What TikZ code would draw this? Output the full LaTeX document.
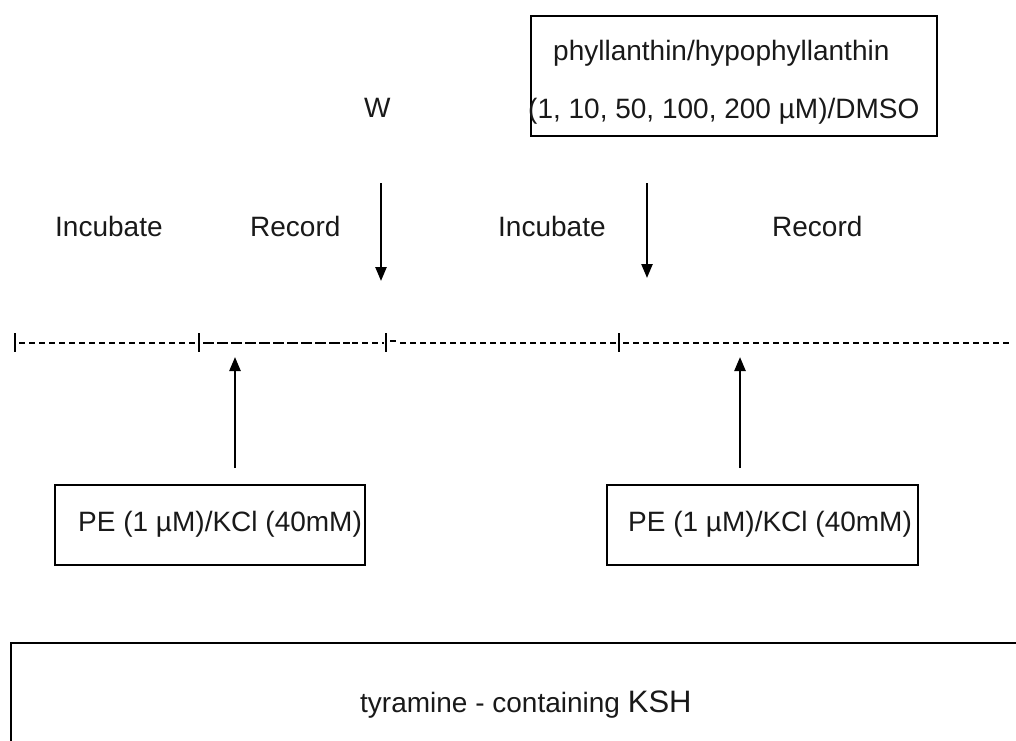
\documentclass[tikz,border=0pt]{standalone}
\usepackage{fontspec}
\setmainfont{Liberation Sans}
\usetikzlibrary{arrows.meta}
\begin{document}
\begin{tikzpicture}[x=1pt,y=-1pt,
  lbl/.style={anchor=base west, inner sep=0pt, font=\fontsize{28}{34}\selectfont, text=black!90},
  box/.style={draw, line width=1.8pt, inner sep=0pt},
  arr/.style={line width=2.4pt, -{Triangle[length=14pt,width=11pt]}},
  tickmark/.style={line width=2.2pt},
  dsh/.style={line width=1.8pt, dash pattern=on 6pt off 4pt},
  longdsh/.style={line width=1.8pt, dash pattern=on 11pt off 3pt}]
\useasboundingbox (0,0) rectangle (1016,740);

% boxes
\node[box, minimum width=406pt, minimum height=120pt] (topbox) at (734,76) {};
\node[box, minimum width=310pt, minimum height=80pt] (pe1) at (210,525) {};
\node[box, minimum width=311pt, minimum height=80pt] (pe2) at (762.5,525) {};
\draw[line width=1.8pt] (11,741) |- (1017,643);

% texts
\node[lbl] (t1) at (553,60) {phyllanthin/hypophyllanthin};
\node[lbl] (t2) at (528,118) {(1, 10, 50, 100, 200 µM)/DMSO};
\node[lbl] (w) at (364,117) {W};
\node[lbl] (inc1) at (55,236) {Incubate};
\node[lbl] (rec1) at (250,236) {Record};
\node[lbl] (inc2) at (498,236) {Incubate};
\node[lbl] (rec2) at (772,236) {Record};
\node[lbl] (pe1t) at (78,531) {PE (1 µM)/KCl (40mM)};
\node[lbl] (pe2t) at (628,531) {PE (1 µM)/KCl (40mM)};
\node[lbl] (ksh) at (360,712) {tyramine - containing {\fontsize{31}{36}\selectfont KSH}};

% arrows
\coordinate (d1s) at (381,183); \coordinate (d1e) at (381,281);
\coordinate (d2s) at (647,183); \coordinate (d2e) at (647,278);
\coordinate (u1s) at (235,468); \coordinate (u1e) at (235,357);
\coordinate (u2s) at (740,468); \coordinate (u2e) at (740,357);
\draw[arr] (d1s) -- (d1e);
\draw[arr] (d2s) -- (d2e);
\draw[arr] (u1s) -- (u1e);
\draw[arr] (u2s) -- (u2e);

% timeline
\foreach \x in {15,199,386,619} \draw[tickmark] (\x,333) -- (\x,352);
\draw[dsh] (19,343) -- (196,343);
\draw[longdsh] (203,343) -- (350,343);
\draw[dsh] (352,343) -- (384,343);
\draw[dsh] (390,341) -- (396,341);
\draw[dsh] (400,343) -- (617,343);
\draw[dsh] (623,343) -- (1012,343);
\end{tikzpicture}
\end{document}
